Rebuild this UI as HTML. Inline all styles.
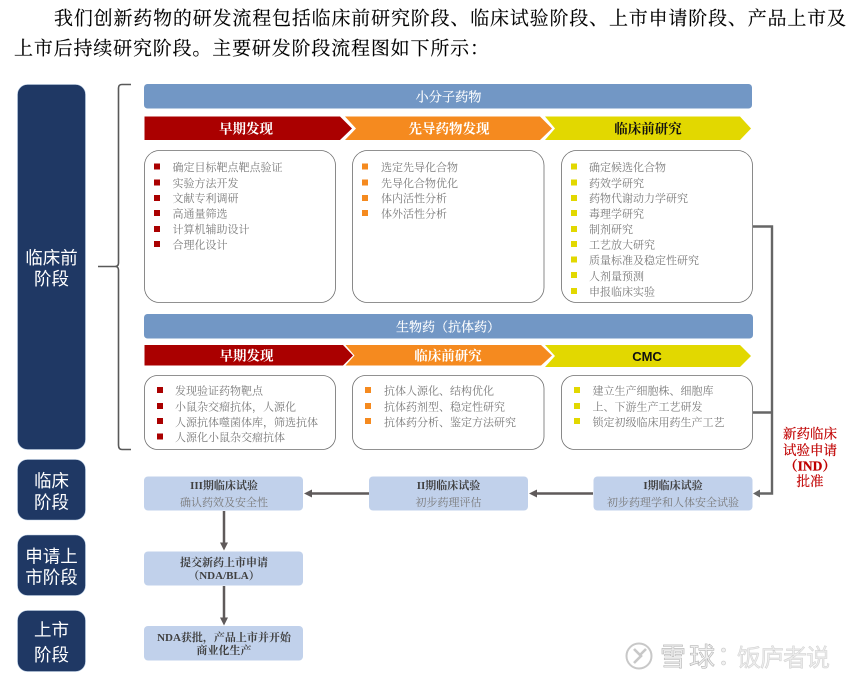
<!DOCTYPE html>
<html lang="zh">
<head>
<meta charset="utf-8">
<style>
html,body{margin:0;padding:0;background:#fff;width:855px;height:683px;overflow:hidden}
svg{display:block;filter:blur(.3px)}
text{font-family:"Liberation Serif","Noto Serif CJK SC",serif}
.para{font-size:19px;fill:#000;stroke:#000;stroke-width:.15}
.side{font-size:17.5px;fill:#fff;text-anchor:middle;font-family:"Liberation Sans","Noto Sans CJK SC",sans-serif}
.bar{font-size:13.2px;fill:#fff;text-anchor:middle;stroke:#fff;stroke-width:.15}
.chev{font-size:13.5px;fill:#fff;text-anchor:middle;font-weight:bold}
.li{font-size:11px;fill:#7a7a7a}
.ct{font-size:11px;fill:#404040;text-anchor:middle;font-weight:bold}
.cs{font-size:11px;fill:#7a7a7a;text-anchor:middle}
.red{font-size:13.5px;fill:#c00000;text-anchor:middle;stroke:#c00000;stroke-width:.2}
.wm1{font-size:26px;fill:#f0f0f0;stroke:#b4b4b4;stroke-width:.6;font-family:"Liberation Sans","Noto Sans CJK SC",sans-serif}
.wm2{font-size:24px;fill:#ececec;stroke:#d0d0d0;stroke-width:.5;font-family:"Liberation Sans","Noto Sans CJK SC",sans-serif}
</style>
</head>
<body>
<svg width="855" height="683" viewBox="0 0 855 683" xmlns="http://www.w3.org/2000/svg">
<rect width="855" height="683" fill="#fff"/>

<text class="para" x="54" y="24.500" textLength="792">我们创新药物的研发流程包括临床前研究阶段、临床试验阶段、上市申请阶段、产品上市及</text>
<text class="para" x="14" y="54.500" textLength="475">上市后持续研究阶段。主要研发阶段流程图如下所示：</text>

<!-- stage boxes -->
<g fill="#1f3864" stroke="#b9cde4" stroke-width=".6">
<rect x="17.500" y="84.500" width="68" height="365" rx="10"/>
<rect x="17.500" y="459.500" width="68" height="60.500" rx="10"/>
<rect x="17.500" y="535" width="68" height="60.500" rx="10"/>
<rect x="17.500" y="610.500" width="68" height="61" rx="10"/>
</g>
<text class="side" x="51.500" y="264">临床前</text>
<text class="side" x="51.500" y="285">阶段</text>
<text class="side" x="51.500" y="487">临床</text>
<text class="side" x="51.500" y="508.500">阶段</text>
<text class="side" x="51.500" y="562.500">申请上</text>
<text class="side" x="51.500" y="583.500">市阶段</text>
<text class="side" x="51.500" y="636">上市</text>
<text class="side" x="51.500" y="661">阶段</text>

<!-- bracket -->
<path d="M131 84.500H122Q118.500 84.500 118.500 88V263Q118.500 266.500 115 266.500H98M115 266.500Q118.500 266.500 118.500 270V445Q118.500 449.500 122 449.500H131" fill="none" stroke="#595959" stroke-width="1.600"/>

<!-- bars -->
<rect x="144" y="84" width="608" height="24.500" rx="3.500" fill="#7297c5"/>
<text class="bar" x="448.500" y="101.500">小分子药物</text>
<rect x="144" y="314" width="609" height="24.500" rx="3.500" fill="#7297c5"/>
<text class="bar" x="448" y="331.500" style="font-size:13px">生物药（抗体药）</text>

<!-- chevrons 1 -->
<path d="M144.500 116.500H340L352 128.500L340 140H144.500Z" fill="#aa0000"/>
<path d="M345 116.500H540L552 128.500L540 140H345L356 128.500Z" fill="#f58a1f"/>
<path d="M545 116.500H740L751 128.500L740 140H545L555 128.500Z" fill="#e2d800"/>
<text class="chev" x="246" y="133.500">早期发现</text>
<text class="chev" x="449" y="133.500">先导药物发现</text>
<text class="chev" x="648" y="133.500" style="fill:#111">临床前研究</text>

<!-- chevrons 2 -->
<path d="M144.500 345H343L353 355.500L343 365.500H144.500Z" fill="#aa0000"/>
<path d="M345.500 345H541L552 355.500L541 365.500H345.500L354.500 355.500Z" fill="#f58a1f"/>
<path d="M545 345H740L751 356L740 367H545L555 356Z" fill="#e2d800"/>
<text class="chev" x="246.500" y="360.500">早期发现</text>
<text class="chev" x="448" y="360.500">临床前研究</text>
<text x="647" y="361" text-anchor="middle" style="font-family:'Liberation Sans',sans-serif;font-size:13px;font-weight:bold;fill:#111">CMC</text>

<!-- content boxes -->
<g fill="#fff" stroke="#6e6e6e" stroke-width=".8">
<rect x="144.500" y="150.500" width="191" height="152" rx="15"/>
<rect x="352.500" y="150.500" width="191.500" height="152" rx="15"/>
<rect x="561.500" y="150.500" width="191" height="152" rx="15"/>
<rect x="144.500" y="375.500" width="191" height="74" rx="13"/>
<rect x="352.500" y="375.500" width="191.500" height="74" rx="13"/>
<rect x="561.500" y="375.500" width="191" height="74" rx="13"/>
</g>

<!-- bullets -->
<g fill="#aa0000">
<rect x="154" y="163.500" width="6" height="6"/><rect x="154" y="179.500" width="6" height="6"/><rect x="154" y="195" width="6" height="6"/><rect x="154" y="210" width="6" height="6"/><rect x="154" y="226" width="6" height="6"/><rect x="154" y="241" width="6" height="6"/>
<rect x="157" y="387" width="6" height="6"/><rect x="157" y="403" width="6" height="6"/><rect x="157" y="418" width="6" height="6"/><rect x="157" y="433.500" width="6" height="6"/>
</g>
<g fill="#f58a1f">
<rect x="362" y="163.500" width="6" height="6"/><rect x="362" y="179.500" width="6" height="6"/><rect x="362" y="195" width="6" height="6"/><rect x="362" y="210" width="6" height="6"/>
<rect x="365" y="387" width="6" height="6"/><rect x="365" y="403" width="6" height="6"/><rect x="365" y="418" width="6" height="6"/>
</g>
<g fill="#e2d800">
<rect x="571" y="163.500" width="6" height="6"/><rect x="571" y="179.500" width="6" height="6"/><rect x="571" y="195" width="6" height="6"/><rect x="571" y="210" width="6" height="6"/><rect x="571" y="226" width="6" height="6"/><rect x="571" y="241" width="6" height="6"/><rect x="571" y="256.500" width="6" height="6"/><rect x="571" y="272" width="6" height="6"/><rect x="571" y="288" width="6" height="6"/>
<rect x="574" y="387" width="6" height="6"/><rect x="574" y="403" width="6" height="6"/><rect x="574" y="418" width="6" height="6"/>
</g>

<!-- list text -->
<text class="li" x="172.500" y="171">确定目标靶点靶点验证</text>
<text class="li" x="172.500" y="187">实验方法开发</text>
<text class="li" x="172.500" y="202">文献专利调研</text>
<text class="li" x="172.500" y="217.500">高通量筛选</text>
<text class="li" x="172.500" y="233">计算机辅助设计</text>
<text class="li" x="172.500" y="248.500">合理化设计</text>

<text class="li" x="381" y="171">选定先导化合物</text>
<text class="li" x="381" y="187">先导化合物优化</text>
<text class="li" x="381" y="202">体内活性分析</text>
<text class="li" x="381" y="217.500">体外活性分析</text>

<text class="li" x="589" y="171">确定候选化合物</text>
<text class="li" x="589" y="187">药效学研究</text>
<text class="li" x="589" y="202">药物代谢动力学研究</text>
<text class="li" x="589" y="217.500">毒理学研究</text>
<text class="li" x="589" y="233">制剂研究</text>
<text class="li" x="589" y="248.500">工艺放大研究</text>
<text class="li" x="589" y="264">质量标准及稳定性研究</text>
<text class="li" x="589" y="280">人剂量预测</text>
<text class="li" x="589" y="295.500">申报临床实验</text>

<text class="li" x="175" y="394.500">发现验证药物靶点</text>
<text class="li" x="175" y="410.500">小鼠杂交瘤抗体，人源化</text>
<text class="li" x="175" y="426">人源抗体噬菌体库，筛选抗体</text>
<text class="li" x="175" y="441">人源化小鼠杂交瘤抗体</text>

<text class="li" x="384" y="394.500">抗体人源化、结构优化</text>
<text class="li" x="384" y="410.500">抗体药剂型、稳定性研究</text>
<text class="li" x="384" y="426">抗体药分析、鉴定方法研究</text>

<text class="li" x="592.500" y="394.500">建立生产细胞株、细胞库</text>
<text class="li" x="592.500" y="410.500">上、下游生产工艺研发</text>
<text class="li" x="592.500" y="426">锁定初级临床用药生产工艺</text>

<!-- connector right -->
<path d="M753 226.500H772V493.500H760M753 412.500H772" fill="none" stroke="#666" stroke-width="2.400"/>
<path d="M753 493.500L760 489.500V497.500Z" fill="#666"/>

<!-- light boxes -->
<g fill="#c1d1eb">
<rect x="144" y="476.500" width="159" height="34" rx="4"/>
<rect x="369" y="476.500" width="159" height="34" rx="4"/>
<rect x="593.500" y="476.500" width="159" height="34" rx="4"/>
<rect x="144" y="551.500" width="159" height="34" rx="4"/>
<rect x="144" y="626" width="159" height="34.500" rx="4"/>
</g>
<text class="ct" x="224" y="489">III期临床试验</text>
<text class="cs" x="224" y="506">确认药效及安全性</text>
<text class="ct" x="448.500" y="489">II期临床试验</text>
<text class="cs" x="448.500" y="506">初步药理评估</text>
<text class="ct" x="673" y="489">I期临床试验</text>
<text class="cs" x="673" y="506">初步药理学和人体安全试验</text>
<text class="ct" x="224" y="566">提交新药上市申请</text>
<text class="ct" x="224" y="579">（NDA/BLA）</text>
<text class="ct" x="224" y="641">NDA获批，产品上市并开始</text>
<text class="ct" x="224" y="654">商业化生产</text>

<!-- arrows -->
<g stroke="#5f5a5a" stroke-width="2.500" fill="none">
<path d="M369 493.500H310"/>
<path d="M593 493.500H535"/>
<path d="M224 511V545"/>
<path d="M224 586V620"/>
</g>
<g fill="#5f5a5a">
<path d="M304 493.500L312 489.500V497.500Z"/>
<path d="M529 493.500L537 489.500V497.500Z"/>
<path d="M224 550.500L220 542.500H228Z"/>
<path d="M224 625.500L220 617.500H228Z"/>
</g>

<!-- red label -->
<text class="red" x="810" y="438.500">新药临床</text>
<text class="red" x="810" y="455">试验申请</text>
<text class="red" x="810" y="470.500" style="font-weight:bold">（IND）</text>
<text class="red" x="810" y="486">批准</text>

<!-- watermark -->
<g fill="none" stroke="#c8c8c8" stroke-width="2">
<circle cx="639" cy="656" r="12.500"/>
<path d="M634 649L641 656L634 663M646 649L640 655" stroke-width="2.600"/>
</g>
<text class="wm1" x="660" y="666" textLength="55">雪球</text>
<text class="wm1" x="717" y="665" style="stroke:#c8c8c8">：</text>
<text class="wm2" x="737" y="666" textLength="93">饭庐者说</text>
</svg>
</body>
</html>
